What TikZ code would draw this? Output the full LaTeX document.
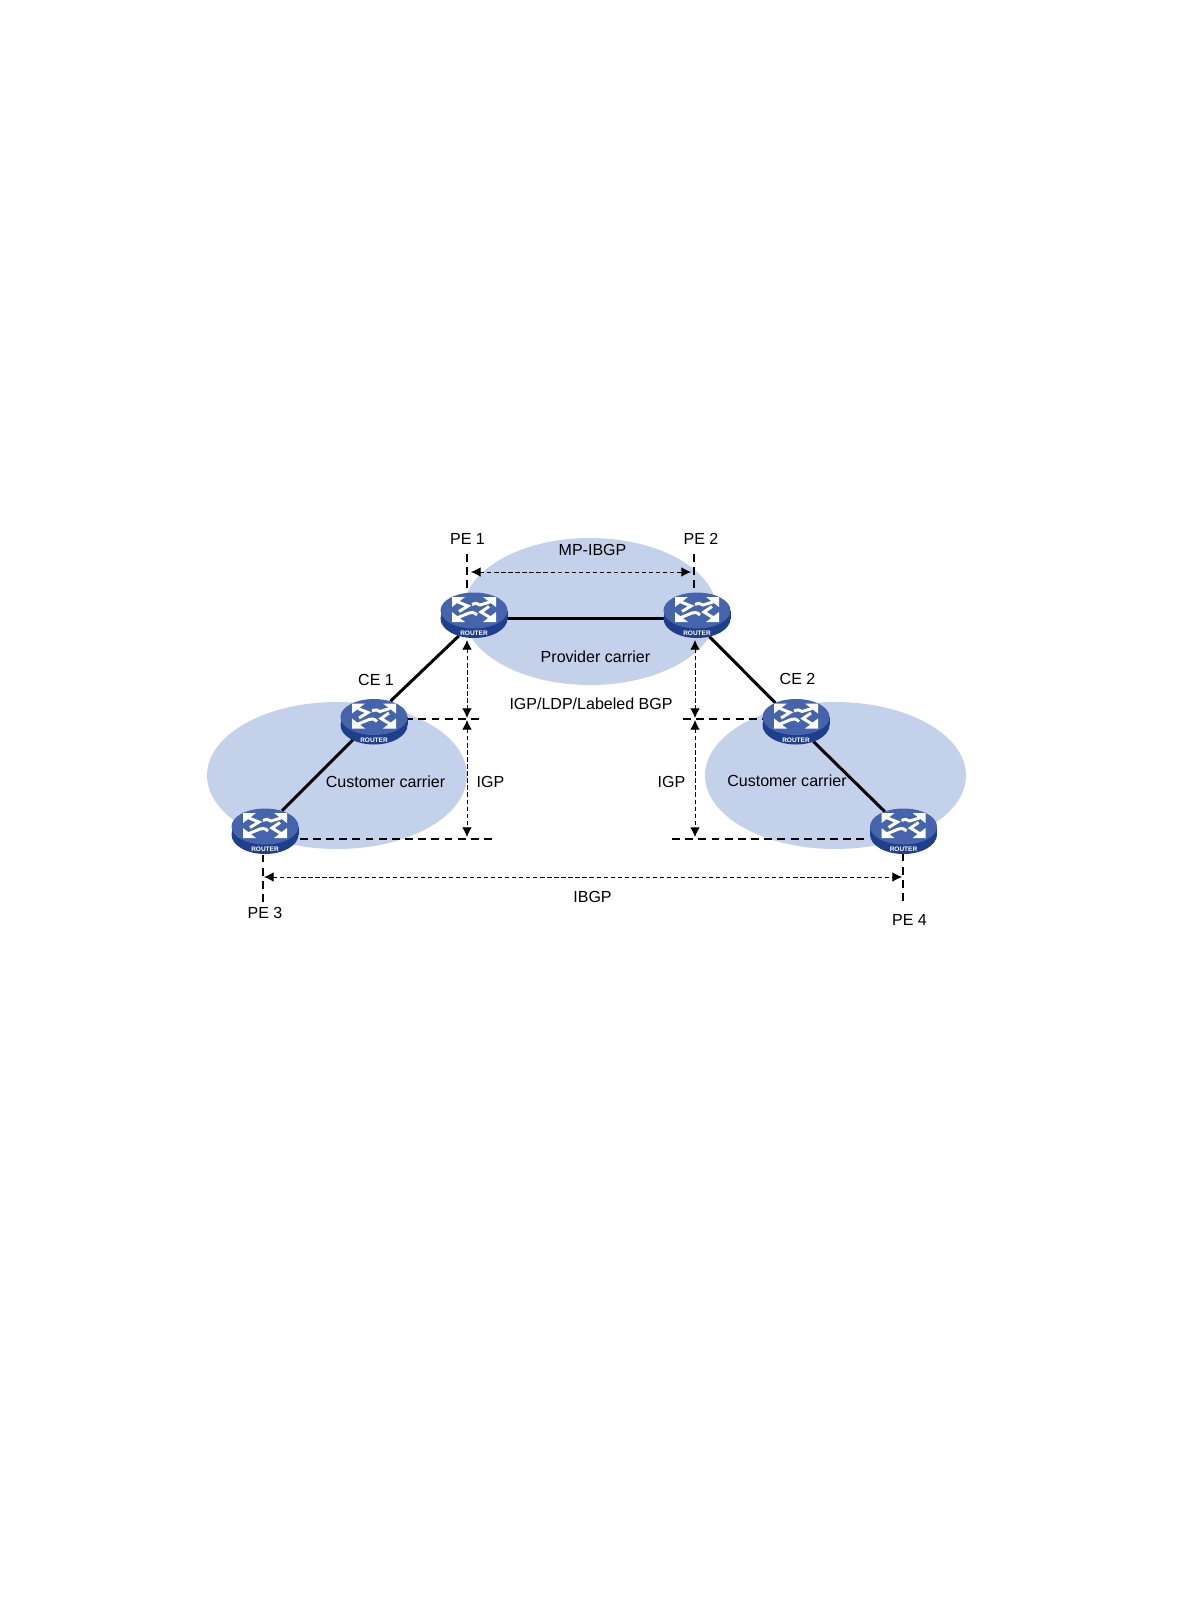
\documentclass[tikz,border=0pt]{standalone}
\usepackage{fontspec}
\setmainfont{Liberation Sans}
\usetikzlibrary{shapes.geometric,arrows.meta}
\definecolor{carrierblue}{HTML}{C4D1EA}
\definecolor{routertop}{HTML}{4564AD}
\definecolor{routerside}{HTML}{1F3F8C}
\tikzset{
    carrier/.style={ellipse, fill=carrierblue, inner sep=0pt},
    routerbase/.style={ellipse, minimum width=1.34cm, minimum height=0.92cm, inner sep=0pt},
    routertext/.style={inner sep=0pt, text=white, font=\fontsize{3.7}{4}\selectfont\bfseries},
    routerarrow/.style={white, line width=1.7pt},
    label/.style={inner sep=0pt, font=\fontsize{9.12}{11}\selectfont},
    link/.style={line width=1.7pt},
    level/.style={line width=1.2pt, dash pattern=on 4.5pt off 3pt},
    session/.style={line width=0.5pt, dash pattern=on 2.4pt off 1.6pt, {Latex[length=5.5pt,width=5.5pt]}-{Latex[length=5.5pt,width=5.5pt]}},
}
% router body, arrows and badge on top of a named node
\newcommand{\routericon}[1]{
    \begin{scope}[shift={(#1)}]
        \fill[routerside] (0,3.5) ellipse [x radius=33.5, y radius=19.5];
        \fill[routerside] (-33.5,-4.5) rectangle (33.5,3.5);
        \fill[routertop] (0,-4.5) ellipse [x radius=33.5, y radius=18];
        % arrow heads
        \fill[white] (-22,-18) -- (-9,-18) -- (-22,-8) -- cycle;
        \fill[white] (22,-18) -- (9,-18) -- (22,-8) -- cycle;
        \fill[white] (-22,7) -- (-9,7) -- (-22,-3) -- cycle;
        \fill[white] (22,7) -- (9,7) -- (22,-3) -- cycle;
        % arrow tails
        \draw[routerarrow] (-16,-13) -- (-6,-9) -- (-15,-3.5);
        \draw[routerarrow] (16,-13) -- (6,-10) .. controls (4,-12) and (1,-12) .. (-2,-10.5);
        \draw[routerarrow] (-16,2.5) -- (-5,-2) .. controls (-3,-3) and (0,-3) .. (3,0);
        \draw[routerarrow] (16,2.5) -- (7,-3) -- (15,-8.5);
        \node[routertext] (#1badge) at (0,18.3) {ROUTER};
    \end{scope}
}
\begin{document}
\begin{tikzpicture}[x=0.02cm, y=-0.02cm]
    \useasboundingbox (0,0) rectangle (1190,1616);

    % carrier networks
    \node[carrier, minimum width=5.08cm, minimum height=2.94cm] (provider) at (590,611.5) {};
    \node[carrier, minimum width=5.2cm, minimum height=2.94cm] (custleft) at (337,775.5) {};
    \node[carrier, minimum width=5.22cm, minimum height=2.94cm] (custright) at (835.5,775.5) {};

    % routers
    \node[routerbase] (pe1) at (474,615) {};
    \node[routerbase] (pe2) at (697,615) {};
    \node[routerbase] (ce1) at (374,721.5) {};
    \node[routerbase] (ce2) at (796,721.5) {};
    \node[routerbase] (pe3) at (265,831) {};
    \node[routerbase] (pe4) at (903.5,831) {};

    % free ends
    \coordinate (pe1up) at (467,554);
    \coordinate (pe2up) at (694,554);
    \coordinate (pe3down) at (263,902);
    \coordinate (pe4down) at (903,901);
    \coordinate (ce1end) at (479,719);
    \coordinate (ce2end) at (683,719);
    \coordinate (pe3end) at (492,839);
    \coordinate (pe4end) at (672,839);
    \coordinate (mpleft) at (471,572);
    \coordinate (mpright) at (691,572);
    \coordinate (ibleft) at (264,877);
    \coordinate (ibright) at (902,877);
    \coordinate (leftup) at (467,640);
    \coordinate (leftmida) at (467,718);
    \coordinate (leftmidb) at (467,720);
    \coordinate (leftdown) at (467,837);
    \coordinate (rightup) at (695,640);
    \coordinate (rightmida) at (695,718);
    \coordinate (rightmidb) at (695,720);
    \coordinate (rightdown) at (695,837);

    % physical links
    \draw[link] (pe1.-6) -- (pe2.186);
    \draw[link] (pe1.234) -- (ce1.51);
    \draw[link] (ce1.221) -- (pe3.50);
    \draw[link] (pe2.-60) -- (ce2.138);
    \draw[link] (ce2.-49) -- (pe4.134);

    % level lines
    \draw[level] (pe1up) -- (pe1up |- pe1.north);
    \draw[level] (pe2up) -- (pe2up |- pe2.north);
    \draw[level] (pe3down) -- (pe3down |- pe3.south);
    \draw[level] (pe4down) -- (pe4down |- pe4.south);
    \draw[level] (ce1end) -- (ce1end -| ce1.east);
    \draw[level] (ce2end) -- (ce2end -| ce2.west);
    \draw[level] (pe3end) -- (pe3end -| pe3.east);
    \draw[level] (pe4end) -- (pe4end -| pe4.west);

    % sessions
    \draw[session] (mpleft) -- (mpright);
    \draw[session] (ibleft) -- (ibright);
    \draw[session] (leftup) -- (leftmida);
    \draw[session] (leftmidb) -- (leftdown);
    \draw[session] (rightup) -- (rightmida);
    \draw[session] (rightmidb) -- (rightdown);

    \routericon{pe1}
    \routericon{pe2}
    \routericon{ce1}
    \routericon{ce2}
    \routericon{pe3}
    \routericon{pe4}

    % labels
    \node[label] (pe1name) at (467.5,539) {PE 1};
    \node[label] (pe2name) at (701,539) {PE 2};
    \node[label] (ce1name) at (376,680) {CE 1};
    \node[label] (ce2name) at (797.5,679) {CE 2};
    \node[label] (pe3name) at (265,913) {PE 3};
    \node[label] (pe4name) at (909.5,920) {PE 4};
    \node[label] (mpname) at (592.5,550) {MP-IBGP};
    \node[label] (provname) at (595.5,657) {Provider carrier};
    \node[label] (ldpname) at (591,704) {IGP/LDP/Labeled BGP};
    \node[label] (custlname) at (385.5,782) {Customer carrier};
    \node[label] (custrname) at (787,781) {Customer carrier};
    \node[label] (igplname) at (490.5,782) {IGP};
    \node[label] (igprname) at (671.5,782) {IGP};
    \node[label] (ibname) at (592.5,897) {IBGP};
\end{tikzpicture}
\end{document}
